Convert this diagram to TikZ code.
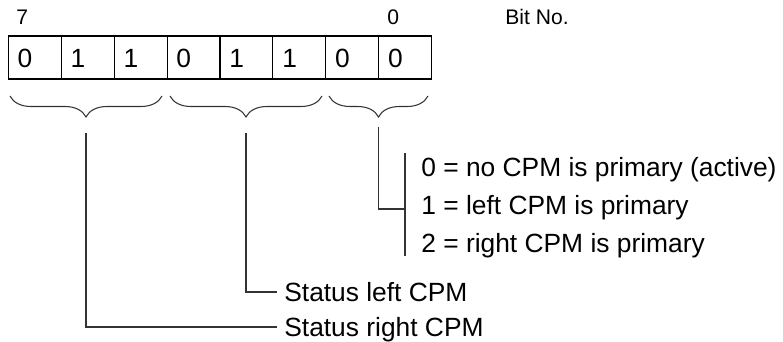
\documentclass[tikz,border=0pt]{standalone}
\usepackage{fontspec}
\setmainfont{Liberation Sans}
\usetikzlibrary{decorations.pathreplacing}

\begin{document}
\begin{tikzpicture}[
  bitval/.style={anchor=base west, inner sep=0, font=\fontsize{15}{18}\selectfont},
  bitno/.style={anchor=base west, inner sep=0, font=\fontsize{12}{14}\selectfont},
  legend/.style={anchor=base west, inner sep=0, font=\fontsize{15}{18}\selectfont},
  grp/.style={decorate, decoration={brace, mirror, amplitude=0.42cm}, line width=0.6pt, draw=black!80},
  lead/.style={line width=0.6pt, draw=black!80}]
\useasboundingbox (0,0) rectangle (15.66,-6.84);

% register
\draw [line width=0.6pt] (0.166,-0.72) rectangle (8.634,-1.58);
\foreach \x in {1,...,7}
\draw [line width=0.6pt] (0.166+1.0585*\x,-0.72) -- (0.166+1.0585*\x,-1.58);
\foreach \d [count=\i from 0] in {0,1,1,0,1,1,0,0}
\node[bitval] (cell\i) at (0.346+1.0585*\i,-1.34) {\d};

\node[bitno] (msb) at (0.32,-0.5) {7};
\node[bitno] (lsb) at (7.74,-0.5) {0};
\node[bitno] (bitlbl) at (10.1,-0.5) {Bit No.};

% groups
\draw [grp] (0.2,-1.92) -- (3.24,-1.92);
\draw [grp] (3.4,-1.92) -- (6.44,-1.92);
\draw [grp] (6.58,-1.92) -- (8.56,-1.92);
\coordinate (tipR) at (1.72,-2.66);
\coordinate (tipL) at (4.92,-2.66);
\coordinate (tipP) at (7.57,-2.54);

% primary
\node[legend] (prim0) at (8.42,-3.53) {0 = no CPM is primary (active)};
\node[legend] (prim1) at (8.42,-4.29) {1 = left CPM is primary};
\node[legend] (prim2) at (8.42,-5.05) {2 = right CPM is primary};
\coordinate (bartop) at (8.1,-3.06);
\coordinate (barbot) at (8.1,-5.12);
\coordinate (barmid) at (8.1,-4.18);
\draw [lead] (bartop) -- (barbot);
\draw [lead] (tipP) |- (barmid);

% status
\node[legend] (statL) at (5.68,-6.03) {Status left CPM};
\node[legend] (statR) at (5.68,-6.73) {Status right CPM};
\draw [lead] (tipL) |- ([xshift=-0.14cm,yshift=0.19cm]statL.base west);
\draw [lead] (tipR) |- ([xshift=-0.14cm,yshift=0.19cm]statR.base west);

\end{tikzpicture}
\end{document}
